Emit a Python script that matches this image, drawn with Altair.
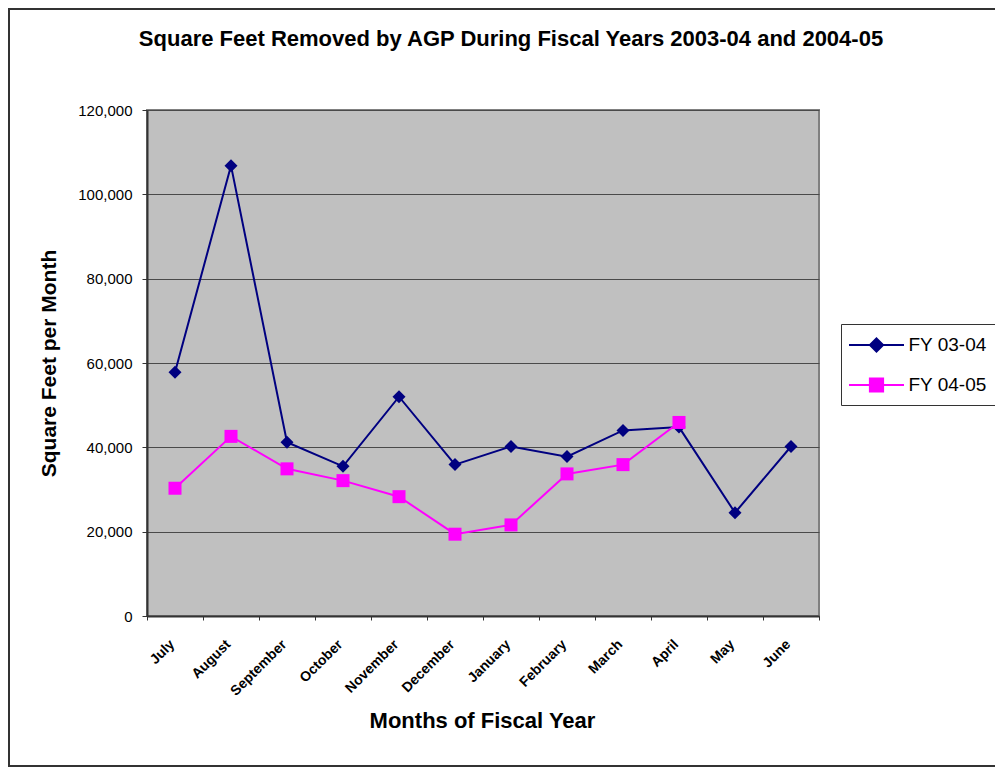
import altair as alt
import pandas as pd

months = ["July", "August", "September", "October", "November", "December",
          "January", "February", "March", "April", "May", "June"]
fy_03_04 = [57800, 106800, 41200, 35500, 52000, 35900, 40200, 37800, 44000, 44800, 24500, 40200]
fy_04_05 = [30300, 42600, 34900, 32100, 28300, 19400, 21600, 33700, 35900, 45900]
series_names = ["FY 03-04", "FY 04-05"]
series_colors = ["#000080", "#FF00FF"]
marker_paths = ["M0,-1L1,0L0,1L-1,0Z", "M-1,-1H1V1H-1Z"]
legend_paths = ["M-2.5,0H2.5M0,-0.6L0.6,0L0,0.6L-0.6,0Z",
                "M-2.5,0H2.5M-0.6,-0.6H0.6V0.6H-0.6Z"]
y_ticks = [0, 20000, 40000, 60000, 80000, 100000, 120000]

rows = []
for s, vals in zip(series_names, [fy_03_04, fy_04_05]):
    for m, v in zip(months, vals):
        rows.append({"month": m, "series": s, "key": s, "value": v})
df = pd.DataFrame(rows)

W, H = 672, 506
FONT = "Liberation Sans"

x_enc = alt.X(
    "month:N", sort=months, bandPosition=0.5,
    scale=alt.Scale(type="band", domain=months, paddingInner=0, paddingOuter=0),
    axis=alt.Axis(
        title="Months of Fiscal Year", labelAngle=-45, labelFontSize=14, labelFont=FONT,
        labelFontWeight="bold", labelColor="black", labelOffset=-8, labelPadding=17,
        tickBand="extent", tickSize=4, tickColor="#333333", domainColor="#333333",
        domainWidth=2, grid=False, titleFontSize=22, titleFont=FONT, titleFontWeight="bold",
        titleColor="black", titleX=335, titleY=111, titleBaseline="alphabetic",
    ),
)
y_enc = alt.Y(
    "value:Q",
    scale=alt.Scale(domain=[0, 120000], nice=False),
    axis=alt.Axis(
        title="Square Feet per Month", values=y_ticks, format=",.0f", labelFontSize=15,
        labelFont=FONT, labelColor="black", labelPadding=10, tickSize=5,
        tickColor="#333333", domainColor="#333333", domainWidth=2, grid=True,
        gridColor="#4a4a4a", gridWidth=1, titleFontSize=21, titleFont=FONT,
        titleFontWeight="bold", titleColor="black", titleX=-92, titleY=253,
        titleAngle=270, titleBaseline="alphabetic", titleAlign="center",
    ),
)
color_scale = alt.Scale(domain=series_names, range=series_colors)

base = alt.Chart(df)

frame = alt.Chart(pd.DataFrame({"d": [0]})).mark_rect(
    fill="transparent", stroke="#333333", strokeWidth=2
).encode(x=alt.value(-138), x2=alt.value(900), y=alt.value(-101), y2=alt.value(656))

lines = base.mark_line(strokeWidth=2).encode(
    x=x_enc, y=y_enc,
    color=alt.Color("series:N", scale=color_scale, legend=None),
)
points = base.mark_point(filled=True, opacity=1, size=169).encode(
    x=x_enc, y=y_enc,
    color=alt.Color("series:N", scale=color_scale, legend=None),
    shape=alt.Shape("series:N", scale=alt.Scale(domain=series_names, range=marker_paths), legend=None),
    order=alt.Order("series:N"),
)
leg = alt.Legend(
    title=None, orient="none", legendX=694, legendY=214, padding=9, rowPadding=17,
    symbolOffset=14.5, labelOffset=20, labelFontSize=19, labelFont=FONT,
    labelColor="black", fillColor="white", strokeColor="#333333", symbolSize=484,
    symbolStrokeWidth=2,
)
legend_layer = base.transform_filter("false").mark_point(
    filled=True, opacity=1, size=484, strokeWidth=2
).encode(
    x=x_enc, y=y_enc,
    color=alt.Color("key:N", scale=alt.Scale(domain=series_names, range=series_colors), legend=leg),
    stroke=alt.Stroke("key:N", scale=alt.Scale(domain=series_names, range=series_colors), legend=leg),
    shape=alt.Shape("key:N", scale=alt.Scale(domain=series_names, range=legend_paths), legend=leg),
)

chart = alt.layer(frame, lines, points, legend_layer).resolve_scale(
    color="independent", shape="independent", stroke="independent"
).properties(
    width=W, height=H, background="white",
    padding={"left": 139, "top": 102, "right": 176, "bottom": 152},
    autosize=alt.AutoSizeParams(type="none"),
    title=alt.TitleParams(
        text="Square Feet Removed by AGP During Fiscal Years 2003-04 and 2004-05",
        fontSize=22, font=FONT, fontWeight="bold", color="black", anchor="middle",
        dx=28, offset=-60, baseline="alphabetic", frame="group",
    ),
).configure_view(
    fill="#C0C0C0", stroke="#808080", strokeWidth=2
)

chart.save("out.html", embed_options={"renderer": "svg", "actions": False})
